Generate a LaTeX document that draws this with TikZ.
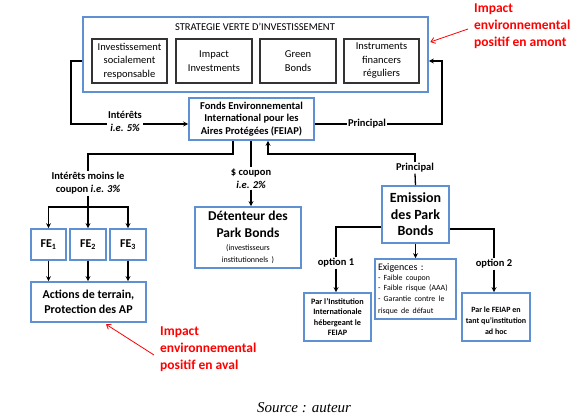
\documentclass[tikz,border=0pt]{standalone}
\usepackage{fontspec}
\setmainfont{Carlito}
\newfontfamily\srcfont{Liberation Serif}
\usetikzlibrary{arrows.meta}
\definecolor{boxblue}{RGB}{95,145,210}
\begin{document}
\begin{tikzpicture}[x=1pt,y=-1pt,
 bluebox/.style={draw=boxblue, line width=1.6pt, inner sep=0pt, align=center, fill=white},
 greybox/.style={draw=black!80, line width=1.1pt, inner sep=0pt, align=center, font=\fontsize{10.5}{13.5}\selectfont},
 conn/.style={line width=1.3pt, draw=black},
 arr/.style={conn, -{Stealth[length=5pt,width=5pt]}},
 lbl/.style={fill=white, inner sep=1pt, align=center, font=\bfseries\fontsize{10.5}{13}\selectfont},
 redarr/.style={draw=red, line width=0.8pt, -{Straight Barb[length=4pt,width=6pt]}},
 redtext/.style={text=red, font=\bfseries\fontsize{13.5}{17}\selectfont, align=left, anchor=north west, inner sep=0pt}
]
\useasboundingbox (0,0) rectangle (583,419);

% strategy box
\node[bluebox, minimum width=345pt, minimum height=75pt] (strat) at (255.5,54.5) {};
\node[font=\fontsize{10.5}{12}\selectfont] (title) at (255,27) {STRATEGIE VERTE D’INVESTISSEMENT};
\node[greybox, minimum width=75pt, minimum height=44pt] (isr) at (129.5,61) {Investissement\\socialement\\responsable};
\node[greybox, minimum width=76pt, minimum height=44pt] (impact) at (214,61) {Impact\\Investments};
\node[greybox, minimum width=76pt, minimum height=44pt] (green) at (298,61) {Green\\Bonds};
\node[greybox, minimum width=75pt, minimum height=44pt] (instr) at (381.5,61) {Instruments\\financers\\réguliers};

% FEIAP
\node[bluebox, minimum width=125pt, minimum height=42pt, font=\bfseries\fontsize{10.5}{12.5}\selectfont] (feiap) at (251.5,119) {Fonds Environnemental\\International pour les\\Aires Protégées (FEIAP)};

\draw[arr] ([yshift=-6.5pt]strat.west) -- (71,61) -- (71,124) -- ([yshift=-5pt]feiap.west);
\node[lbl] (lint5) at (125,121) {Intérêts\\\textit{i.e. 5\%}};
\draw[arr] ([yshift=-5pt]feiap.east) -- (442,124) -- (442,61) -- ([yshift=-6.5pt]strat.east);
\node[lbl] (pr1) at (367,124) {Principal};

% left branch
\node[lbl] (lint3) at (88,183.5) {Intérêts moins le\\coupon \textit{i.e. 3\%}};
\node[bluebox, minimum width=35pt, minimum height=31pt, font=\bfseries\fontsize{12}{14}\selectfont] (fe1) at (48.5,244.5) {FE\textsubscript{1}};
\node[bluebox, minimum width=36pt, minimum height=31pt, font=\bfseries\fontsize{12}{14}\selectfont] (fe2) at (88,244.5) {FE\textsubscript{2}};
\node[bluebox, minimum width=36pt, minimum height=31pt, font=\bfseries\fontsize{12}{14}\selectfont] (fe3) at (128,244.5) {FE\textsubscript{3}};
\node[bluebox, minimum width=115pt, minimum height=40pt, font=\bfseries\fontsize{12}{15}\selectfont] (act) at (88.5,302) {Actions de terrain,\\Protection des AP};
\draw[conn] ([xshift=-18.5pt]feiap.south) -- (233,154) -- (88,154) -- (lint3.north);
\coordinate (split) at (88,207);
\draw[conn] (lint3.south) -- (split);
\draw[arr] (split) -- (fe2.north);
\draw[arr] (split) -| (fe1.north);
\draw[arr] (split) -| (fe3.north);
\draw[arr] (fe1.south) -- (fe1.south |- act.north);
\draw[arr] (fe2.south) -- (fe2.south |- act.north);
\draw[arr] (fe3.south) -- (fe3.south |- act.north);

% coupon branch
\node[lbl] (lcoup) at (251,178.5) {\$ coupon\\\textit{i.e. 2\%}};
\node[bluebox, minimum width=106pt, minimum height=61pt, text width=104pt] (det) at (248,237.5) {\bfseries\fontsize{13.5}{17}\selectfont Détenteur des\\Park Bonds\par\vspace{2.5pt}\mdseries\fontsize{8}{10.5}\selectfont (investisseurs\\institutionnels )};
\draw[conn] (feiap.south -| lcoup) -- (lcoup.north);
\draw[arr] (lcoup.south) -- (lcoup.south |- det.north);

% emission branch
\node[bluebox, minimum width=67pt, minimum height=57pt, font=\bfseries\fontsize{14}{16.5}\selectfont] (em) at (415.5,214.5) {Emission\\des Park\\Bonds};
\node[lbl] (pr2) at (415,168) {Principal};
\draw[conn] (em.north) -- (pr2.south);
\draw[arr] (pr2.north) -- (415,154) -- (268,154) -- ([xshift=16.5pt]feiap.south);

\node[lbl] (o1) at (336,263) {option 1};
\node[bluebox, minimum width=67pt, minimum height=48pt, font=\bfseries\fontsize{8.2}{10.3}\selectfont] (b1) at (337.5,317) {Par l’Institution\\Internationale\\hébergeant le\\FEIAP};
\draw[conn] ([yshift=-12.5pt]em.west) -| (o1.north);
\draw[arr] (o1.south) -- (o1.south |- b1.north);

\node[bluebox, minimum width=81pt, minimum height=60pt, align=left, text width=75pt] (ex) at (415.5,289) {\fontsize{10}{11}\selectfont Exigences :\par\fontsize{7.9}{10.2}\selectfont - Faible coupon\\- Faible risque (AAA)\\- Garantie contre le\\risque de défaut};
\draw[arr] (em.south) -- (ex.north);

\node[lbl] (o2) at (494,264) {option 2};
\node[bluebox, minimum width=68pt, minimum height=48pt] (b2) at (496,317) {};
\node[font=\bfseries\fontsize{8}{10.8}\selectfont, align=center, inner sep=0pt] (b2t) at (496,321) {Par le FEIAP en\\tant qu’institution\\ad hoc};
\draw[conn] ([yshift=-14.5pt]em.east) -| (o2.north);
\draw[arr] (o2.south) -- (o2.south |- b2.north);

% red annotations
\node[redtext] (rtop) at (474,4) {Impact\\environnemental\\positif en amont};
\coordinate (rs1) at (468,29);
\draw[redarr] (rs1) -- ([xshift=1.5pt,yshift=12.5pt]strat.east);
\node[redtext] (rbot) at (160,327) {Impact\\environnemental\\positif en aval};
\coordinate (rs2) at (154,355);
\draw[redarr] (rs2) -- ([xshift=17.5pt,yshift=-1.5pt]act.south);

\node[font=\srcfont\itshape\fontsize{15}{17}\selectfont] (src) at (304,408) {Source : auteur};
\end{tikzpicture}
\end{document}
